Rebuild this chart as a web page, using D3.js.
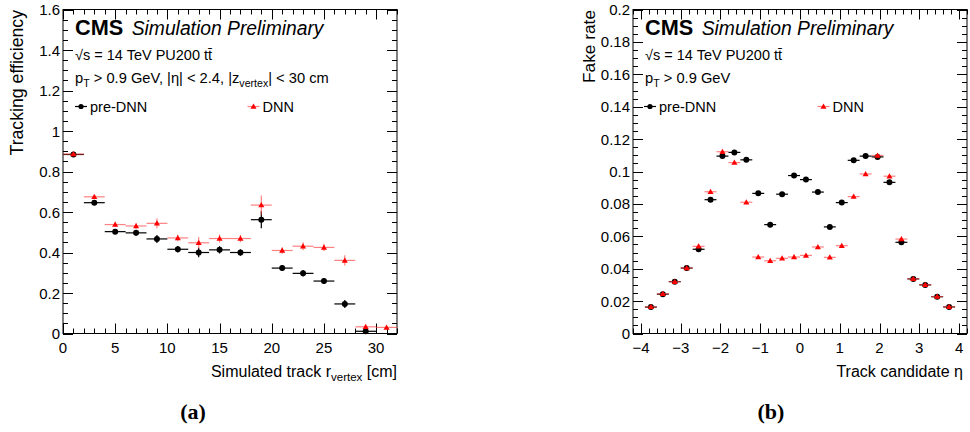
<!DOCTYPE html>
<html>
<head>
<meta charset="utf-8">
<script src="https://cdn.jsdelivr.net/npm/d3@7"></script>
<style>
  html, body { margin: 0; padding: 0; background: #fff; }
  svg { display: block; }
  text { font-family: "Liberation Sans", Arial, Helvetica, sans-serif; fill: #000; }
</style>
</head>
<body>
<svg id="chart" width="970" height="432"></svg>
<script>
// ---------- Data ----------
const effCenters = [1, 3, 5, 7, 9, 11, 13, 15, 17, 19, 21, 23, 25, 27, 29, 31];
const effPreDNN    = [0.884, 0.646, 0.503, 0.497, 0.467, 0.416, 0.400, 0.413, 0.400, 0.562, 0.323, 0.297, 0.259, 0.146, 0.011, null];
const effPreDNNErr = [0.004, 0.008, 0.012, 0.014, 0.020, 0.016, 0.024, 0.018, 0.016, 0.042, 0.014, 0.016, 0.014, 0.020, 0.006, null];
const effDNN       = [0.886, 0.675, 0.538, 0.531, 0.544, 0.472, 0.448, 0.469, 0.469, 0.634, 0.410, 0.431, 0.425, 0.361, 0.033, 0.030];
const effDNNErr    = [0.004, 0.008, 0.012, 0.014, 0.024, 0.016, 0.028, 0.020, 0.018, 0.048, 0.016, 0.020, 0.018, 0.025, 0.006, 0.005];
const effBinHalf = 1;

const etaCenters = [-3.75, -3.45, -3.15, -2.85, -2.55, -2.25, -1.95, -1.65, -1.35, -1.05, -0.75, -0.45, -0.15,
                    0.15, 0.45, 0.75, 1.05, 1.35, 1.65, 1.95, 2.25, 2.55, 2.85, 3.15, 3.45, 3.75];
const fakePreDNN = [0.0163, 0.0243, 0.0320, 0.0404, 0.0520, 0.0826, 0.1095, 0.1118, 0.1072, 0.0865, 0.0672, 0.0860, 0.0975,
                    0.0950, 0.0873, 0.0658, 0.0808, 0.1069, 0.1095, 0.1090, 0.0933, 0.0563, 0.0337, 0.0300, 0.0227, 0.0164];
const fakeDNN    = [0.0165, 0.0245, 0.0320, 0.0405, 0.0538, 0.0875, 0.1122, 0.1055, 0.0810, 0.0472, 0.0449, 0.0464, 0.0472,
                    0.0482, 0.0534, 0.0470, 0.0542, 0.0845, 0.0985, 0.1099, 0.0971, 0.0583, 0.0338, 0.0301, 0.0228, 0.0165];
const fakeErr = 0.0004;
const etaBinHalf = 0.15;

const effXTicks = [0, 5, 10, 15, 20, 25, 30];
const effYTicks = [0, 0.2, 0.4, 0.6, 0.8, 1, 1.2, 1.4, 1.6];
const fakeXTicks = [-4, -3, -2, -1, 0, 1, 2, 3, 4];
const fakeYTicks = [0, 0.02, 0.04, 0.06, 0.08, 0.1, 0.12, 0.14, 0.16, 0.18, 0.2];
const legendLabels = ["pre-DNN", "DNN"];
const panelLabels = ["(a)", "(b)"];

// ---------- Drawing ----------
const svg = d3.select("#chart");
const RED = "#ff0000", RED_LINE = "rgba(255,60,60,0.65)";

function minorValues(domain, step) {
  const out = [];
  const n0 = Math.ceil(domain[0] / step - 1e-9), n1 = Math.floor(domain[1] / step + 1e-9);
  for (let i = n0; i <= n1; i++) out.push(+(i * step).toFixed(6));
  return out;
}

function fmtTick(v) {
  const s = d3.format("")(+v.toFixed(4));
  return s.replace("-", "\u2212");
}

function sub(t, main, s) {
  t.append("tspan").text(main);
  t.append("tspan").attr("dy", 4).attr("font-size", "0.72em").text(s);
  return t.append("tspan").attr("dy", -4);
}

function drawPanel(cfg) {
  const g = svg.append("g");
  const x = d3.scaleLinear().domain(cfg.xDomain).range([cfg.left, cfg.right]);
  const y = d3.scaleLinear().domain(cfg.yDomain).range([cfg.bottom, cfg.top]);

  // frame
  g.append("rect").attr("x", cfg.left).attr("y", cfg.top)
    .attr("width", cfg.right - cfg.left).attr("height", cfg.bottom - cfg.top)
    .attr("fill", "none").attr("stroke", "#000").attr("stroke-width", 1);

  const MAJ = 10, MIN = 5;
  const xMinor = minorValues(cfg.xDomain, cfg.xMinor);
  const yMinor = minorValues(cfg.yDomain, cfg.yMinor);
  const isMajor = (v, arr) => arr.some(t => Math.abs(t - v) < 1e-6);

  xMinor.forEach(v => {
    const L = isMajor(v, cfg.xTicks) ? MAJ : MIN;
    const px = Math.round(x(v)) + 0.5;
    g.append("line").attr("x1", px).attr("x2", px).attr("y1", cfg.bottom).attr("y2", cfg.bottom - L).attr("stroke", "#000");
    g.append("line").attr("x1", px).attr("x2", px).attr("y1", cfg.top).attr("y2", cfg.top + L).attr("stroke", "#000");
  });
  yMinor.forEach(v => {
    const L = isMajor(v, cfg.yTicks) ? MAJ : MIN;
    const py = Math.round(y(v)) + 0.5;
    g.append("line").attr("x1", cfg.left).attr("x2", cfg.left + L).attr("y1", py).attr("y2", py).attr("stroke", "#000");
    g.append("line").attr("x1", cfg.right).attr("x2", cfg.right - L).attr("y1", py).attr("y2", py).attr("stroke", "#000");
  });

  // tick labels
  g.selectAll(".xl").data(cfg.xTicks).join("text")
    .attr("x", d => x(d)).attr("y", cfg.bottom + 19)
    .attr("text-anchor", "middle").attr("font-size", 15).text(fmtTick);
  g.selectAll(".yl").data(cfg.yTicks).join("text")
    .attr("x", cfg.left - 3).attr("y", d => y(d) + 5.5)
    .attr("text-anchor", "end").attr("font-size", 15).text(fmtTick);

  // axis titles
  g.append("text").attr("transform", `translate(${cfg.yTitleX},${cfg.top + 0.5}) rotate(-90)`)
    .attr("text-anchor", "end").attr("font-size", cfg.yTitleSize).text(cfg.yTitle);
  const xt = g.append("text").attr("x", 0).attr("y", cfg.bottom + 43.5).attr("font-size", 16);
  cfg.xTitle(xt);
  const w = xt.node().getComputedTextLength();
  xt.attr("x", cfg.right - w - cfg.xTitlePad);

  // series: pre-DNN (black), DNN (red)
  const series = [
    { v: cfg.pre, e: cfg.preErr, col: "#000", line: "#000", mk: "circle" },
    { v: cfg.dnn, e: cfg.dnnErr, col: RED, line: RED_LINE, mk: "tri" }
  ];
  series.forEach(s => {
    const pts = cfg.xs.map((c, i) => ({ c, v: s.v[i], e: Array.isArray(s.e) ? s.e[i] : s.e })).filter(p => p.v != null);
    const sg = g.append("g");
    sg.selectAll(".h").data(pts).join("line")
      .attr("x1", p => x(p.c - cfg.half)).attr("x2", p => x(p.c + cfg.half))
      .attr("y1", p => y(p.v)).attr("y2", p => y(p.v)).attr("stroke", s.line).attr("stroke-width", 1.2);
    sg.selectAll(".v").data(pts).join("line")
      .attr("x1", p => x(p.c)).attr("x2", p => x(p.c))
      .attr("y1", p => y(p.v - p.e)).attr("y2", p => y(p.v + p.e)).attr("stroke", s.line).attr("stroke-width", 1.2);
    if (s.mk === "circle") {
      sg.selectAll(".m").data(pts).join("circle")
        .attr("cx", p => x(p.c)).attr("cy", p => y(p.v)).attr("r", 3).attr("fill", s.col);
    } else {
      const tri = d3.symbol().type(d3.symbolTriangle).size(16);
      sg.selectAll(".m").data(pts).join("path")
        .attr("d", tri).attr("transform", p => `translate(${x(p.c)},${y(p.v) + 0.5})`).attr("fill", s.col);
    }
  });

  // CMS label
  const l0 = cfg.left + 12;
  g.append("text").attr("x", l0).attr("y", 35).attr("font-size", 21.7).attr("font-weight", "bold").text("CMS");
  g.append("text").attr("x", l0 + 56.7).attr("y", 35)
    .attr("font-size", 19.3).attr("font-style", "italic").text("Simulation Preliminary");
  g.append("text").attr("x", l0).attr("y", 60).attr("font-size", 14.5).text("\u221As = 14 TeV PU200 tt\u0304");
  cfg.cuts(g.append("text").attr("x", l0).attr("y", 83).attr("font-size", 14.7));

  // legend
  const ly = 106.5;
  const leg = [
    { x0: cfg.leg[0], col: "#000", line: "#000", mk: "circle", label: legendLabels[0] },
    { x0: cfg.leg[1], col: RED, line: RED_LINE, mk: "tri", label: legendLabels[1] }
  ];
  leg.forEach(L => {
    g.append("line").attr("x1", L.x0).attr("x2", L.x0 + 12).attr("y1", ly).attr("y2", ly).attr("stroke", L.line).attr("stroke-width", 1.2);
    if (L.mk === "circle") g.append("circle").attr("cx", L.x0 + 6).attr("cy", ly).attr("r", 2.6).attr("fill", L.col);
    else g.append("path").attr("d", d3.symbol().type(d3.symbolTriangle).size(16)).attr("transform", `translate(${L.x0 + 6},${ly + 0.5})`).attr("fill", L.col);
    g.append("text").attr("x", L.x0 + 15).attr("y", ly + 5.5).attr("font-size", 14.5).text(L.label);
  });

  // panel label
  svg.append("text").attr("x", cfg.panelX).attr("y", 419).attr("text-anchor", "middle")
    .attr("style", "font-family:'Liberation Serif','Times New Roman',serif")
    .attr("font-size", 22).attr("font-weight", "bold").text(cfg.panelLabel);
}

drawPanel({
  left: 63, right: 397, top: 9.5, bottom: 333.5,
  xDomain: [0, 32], yDomain: [0, 1.6],
  xTicks: effXTicks, yTicks: effYTicks, xMinor: 1, yMinor: 0.05,
  xs: effCenters, pre: effPreDNN, preErr: effPreDNNErr, dnn: effDNN, dnnErr: effDNNErr, half: effBinHalf,
  yTitle: "Tracking efficiency", yTitleX: 23, yTitleSize: 17.7,
  xTitle: t => { sub(t, "Simulated track r", "vertex").text(" [cm]"); },
  xTitlePad: 0,
  cuts: t => {
    const a = sub(t, "p", "T"); a.text(" > 0.9 GeV, |\u03B7| < 2.4, |z");
    t.append("tspan").attr("dy", 4).attr("font-size", "0.72em").text("vertex");
    t.append("tspan").attr("dy", -4).text("| < 30 cm");
  },
  leg: [75, 247.5],
  panelX: 193, panelLabel: panelLabels[0]
});

drawPanel({
  left: 633, right: 967, top: 9.5, bottom: 333.5,
  xDomain: [-4.2, 4.2], yDomain: [0, 0.2],
  xTicks: fakeXTicks, yTicks: fakeYTicks, xMinor: 0.2, yMinor: 0.005,
  xs: etaCenters, pre: fakePreDNN, preErr: fakeErr, dnn: fakeDNN, dnnErr: fakeErr, half: etaBinHalf,
  yTitle: "Fake rate", yTitleX: 595, yTitleSize: 17.3,
  xTitle: t => { t.text("Track candidate \u03B7"); },
  xTitlePad: 4,
  cuts: t => { sub(t, "p", "T").text(" > 0.9 GeV"); },
  leg: [644, 817.5],
  panelX: 771, panelLabel: panelLabels[1]
});
</script>
</body>
</html>
